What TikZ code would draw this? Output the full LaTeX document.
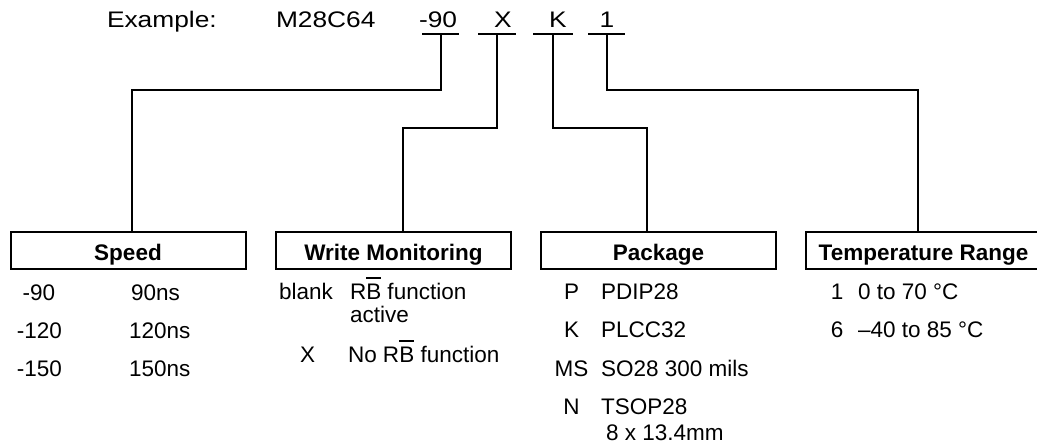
\documentclass[tikz,border=0pt]{standalone}
\usepackage{fontspec}
\setmainfont{Liberation Sans}
\newfontfamily\widefont[FakeStretch=1.17]{Liberation Sans}
\newcommand\ovl[1]{\setbox0\hbox{#1}\rlap{\rule[15.6pt]{\wd0}{1.4pt}}#1}
\begin{document}
\begin{tikzpicture}[x=0.75pt,y=-0.75pt,line width=1.5pt,
  every node/.style={inner sep=0pt,font=\fontsize{16.875}{20}\selectfont},
  code/.style={anchor=base,font=\widefont\fontsize{16.875}{20}\selectfont},
  codeW/.style={anchor=base west,font=\widefont\fontsize{16.875}{20}\selectfont},
  catbox/.style={draw,line width=1.5pt,minimum width=176.25pt,minimum height=27.75pt,
    text height=15.75pt,text depth=0pt,font=\bfseries\fontsize{16.875}{20}\selectfont},
  entry/.style={anchor=base west},
  key/.style={anchor=base}]
\useasboundingbox (0,0) rectangle (1037,448);
\clip (0,0) rectangle (1037,448);

% example line
\node[codeW] (ex) at (106,28) {Example:};
\node[codeW] (part) at (275,28) {M28C64};
\node[codeW] (c90) at (418,28) {-90};
\node[code] (cX) at (503,28) {X};
\node[code] (cK) at (558,28) {K};
\node[code] (c1) at (607,28) {1};

% underlines
\coordinate (u90l) at (422,34); \coordinate (u90r) at (459,34); \coordinate (u90) at (441,34);
\coordinate (uXl) at (478,34);  \coordinate (uXr) at (516,34);  \coordinate (uX) at (497,34);
\coordinate (uKl) at (533,34);  \coordinate (uKr) at (573,34);  \coordinate (uK) at (553,34);
\coordinate (u1l) at (588,34);  \coordinate (u1r) at (625,34);  \coordinate (u1) at (607,34);
\draw (u90l) -- (u90r);
\draw (uXl) -- (uXr);
\draw (uKl) -- (uKr);
\draw (u1l) -- (u1r);

% category boxes
\node[catbox] (speed) at (128,250.5) {Speed};
\node[catbox] (wm) at (393.5,250.5) {Write Monitoring};
\node[catbox] (pkg) at (658.5,250.5) {Package};
\node[catbox] (temp) at (923.5,250.5) {Temperature Range};

% connectors
\coordinate (j90) at (132,90);
\coordinate (jX) at (403,128);
\coordinate (jK) at (647,128);
\coordinate (j1) at (918,90);
\draw (u90) |- (j90) -- (j90 |- speed.north);
\draw (uX) |- (jX) -- (jX |- wm.north);
\draw (uK) |- (jK) -- (jK |- pkg.north);
\draw (u1) |- (j1) -- (j1 |- temp.north);

% speed entries
\node[key] (s1k) at (39,301) {-90};
\node[entry] (s1v) at (130,301) {90ns};
\node[key] (s2k) at (39.5,339) {-120};
\node[entry] (s2v) at (128,339) {120ns};
\node[key] (s3k) at (39.5,377) {-150};
\node[entry] (s3v) at (128,377) {150ns};

% write monitoring entries
\node[entry] (w1k) at (278,300) {blank};
\node[entry] (w1v) at (349,300) {R\ovl{B} function};
\node[entry] (w1v2) at (349,323) {active};
\node[key] (w2k) at (307.5,363) {X};
\node[entry] (w2v) at (347,363) {No R\ovl{B} function};

% package entries
\node[key] (p1k) at (571.5,300) {P};
\node[entry] (p1v) at (600,300) {PDIP28};
\node[key] (p2k) at (571.5,338) {K};
\node[entry] (p2v) at (600,338) {PLCC32};
\node[key] (p3k) at (571.5,376) {MS};
\node[entry] (p3v) at (600,376) {SO28 300 mils};
\node[key] (p4k) at (571.5,414) {N};
\node[entry] (p4v) at (600,414) {TSOP28};
\node[entry] (p4v2) at (605,440) {8 x 13.4mm};

% temperature entries
\node[key] (t1k) at (837,300) {1};
\node[entry] (t1v) at (857,300) {0 to 70 °C};
\node[key] (t2k) at (837,338) {6};
\node[entry] (t2v) at (857,338) {–40 to 85 °C};
\end{tikzpicture}
\end{document}
